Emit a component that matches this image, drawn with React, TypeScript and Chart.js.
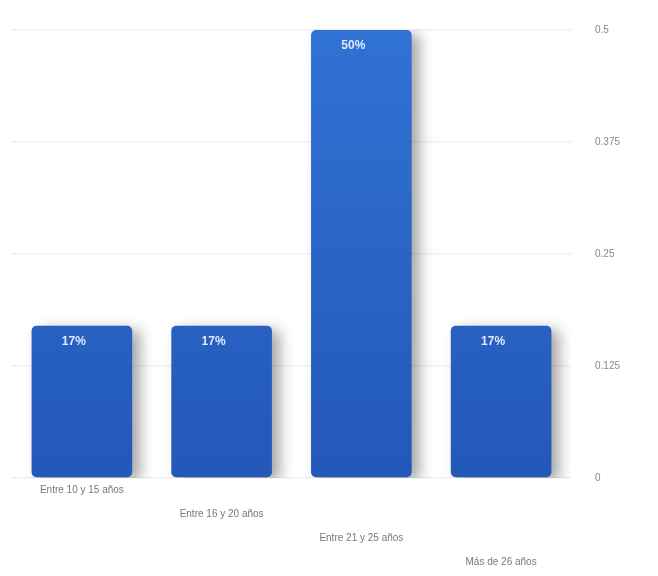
import React, { useEffect, useRef } from "react";
import { Chart, registerables } from "chart.js";

Chart.register(...registerables);

const categories = ["Entre 10 y 15 años", "Entre 16 y 20 años", "Entre 21 y 25 años", "Más de 26 años"];
const values = [0.17, 0.17, 0.5, 0.17];
const valueLabels = ["17%", "17%", "50%", "17%"];
const yTicks = [0, 0.125, 0.25, 0.375, 0.5];

const barLabelPlugin = {
  id: "barLabels",
  beforeDatasetsDraw(chart: any) {
    const ctx = chart.ctx;
    ctx.save();
    ctx.shadowColor = "rgba(0,0,0,0.35)";
    ctx.shadowBlur = 14;
    ctx.shadowOffsetX = 8;
    ctx.shadowOffsetY = 4;
  },
  afterDatasetsDraw(chart: any) {
    const ctx = chart.ctx;
    ctx.restore();
    const meta = chart.getDatasetMeta(0);
    ctx.save();
    ctx.fillStyle = "rgba(235,240,255,0.95)";
    ctx.font = "bold 12px 'Liberation Sans', Arial, sans-serif";
    ctx.textAlign = "center";
    ctx.textBaseline = "top";
    meta.data.forEach((bar: any, i: number) => {
      ctx.fillText(valueLabels[i], bar.x - 8, bar.y + 10);
    });
    ctx.restore();
  },
};

export default function App() {
  const canvasRef = useRef<HTMLCanvasElement | null>(null);

  useEffect(() => {
    document.body.style.margin = "0";
    document.body.style.background = "#ffffff";
    const canvas = canvasRef.current;
    if (!canvas) return;
    const chart = new Chart(canvas, {
      type: "bar",
      data: {
        labels: categories,
        datasets: [
          {
            data: values,
            backgroundColor: (c: any) => {
              const area = c.chart.chartArea;
              if (!area) return "#2a64c8";
              const g = c.chart.ctx.createLinearGradient(0, area.top, 0, area.bottom);
              g.addColorStop(0, "#3072d4");
              g.addColorStop(1, "#2358b8");
              return g;
            },
            borderWidth: 0,
            borderRadius: 5,
            borderSkipped: false,
            barPercentage: 0.8,
            categoryPercentage: 0.9,
          },
        ],
      },
      options: {
        responsive: false,
        animation: false,
        maintainAspectRatio: false,
        layout: { padding: { top: 22, left: 12, right: 14, bottom: 2 } },
        plugins: {
          legend: { display: false },
          tooltip: { enabled: false },
        },
        scales: {
          x: {
            grid: { display: false, drawTicks: false },
            border: { display: false },
            ticks: {
              color: "#777",
              font: { size: 10, family: "'Liberation Sans', Arial, sans-serif" },
              maxRotation: 0,
              autoSkip: false,
              padding: 6,
              callback: (_v: any, i: number) => {
                const lines: string[] = [];
                for (let k = 0; k < i * 2; k++) lines.push("");
                lines.push(categories[i]);
                return lines;
              },
            },
          },
          y: {
            position: "right",
            min: 0,
            max: 0.5,
            afterBuildTicks: (axis: any) => {
              axis.ticks = yTicks.map((v) => ({ value: v }));
            },
            grid: { color: "#efefef", drawTicks: false, lineWidth: 1.5 },
            border: { display: false },
            ticks: {
              color: "#888",
              font: { size: 10, family: "'Liberation Sans', Arial, sans-serif" },
              padding: 24,
              callback: (v: any) => String(v),
            },
          },
        },
      },
      plugins: [barLabelPlugin],
    });
    return () => chart.destroy();
  }, []);

  return (
    <div style={{ width: 658, height: 576 }}>
      <canvas ref={canvasRef} width={658} height={576} style={{ display: "block" }} />
    </div>
  );
}
